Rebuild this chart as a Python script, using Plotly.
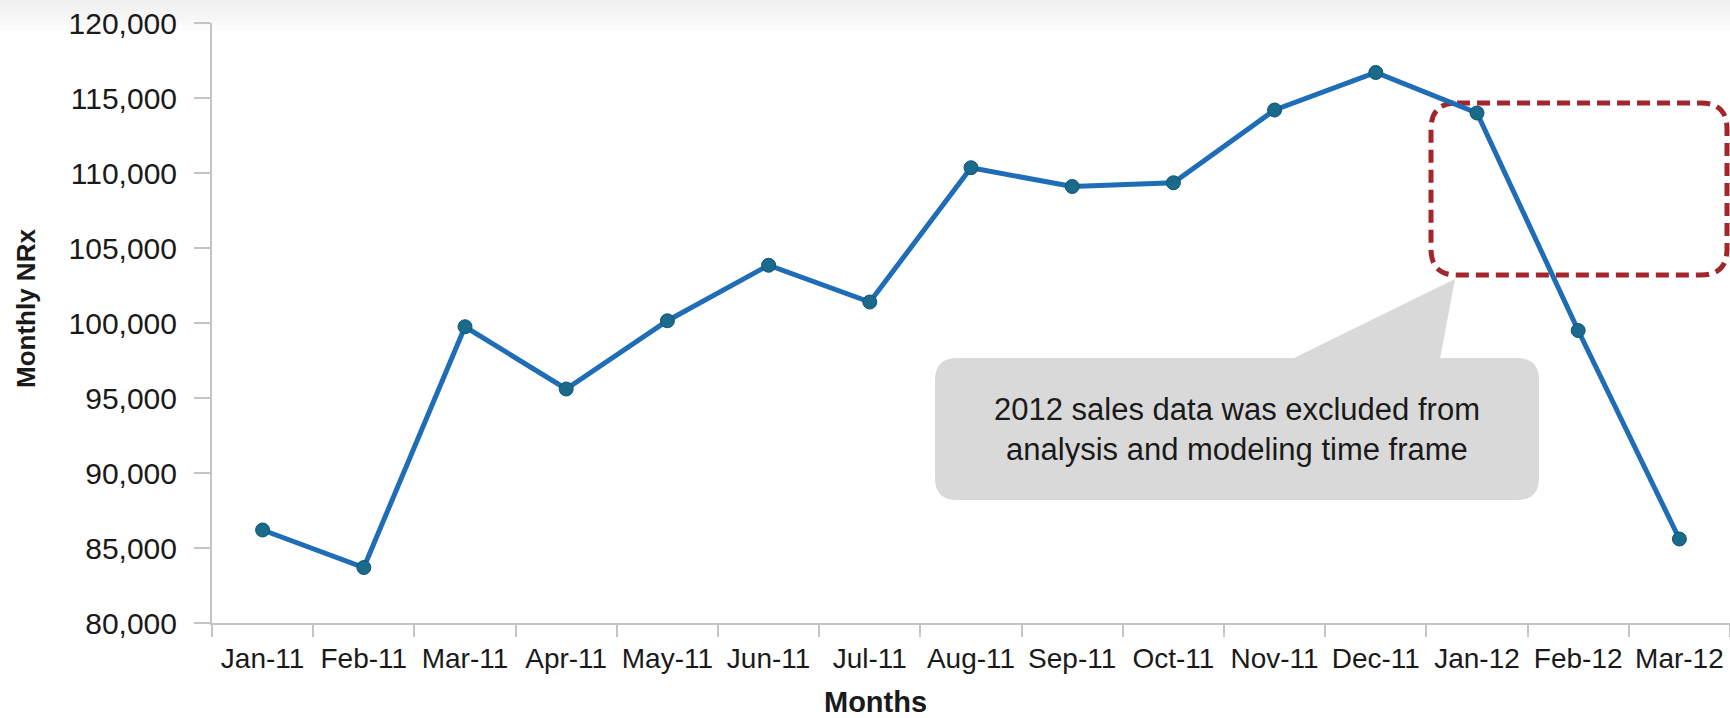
import plotly.graph_objects as go

# ---- data ----
months = ["Jan-11", "Feb-11", "Mar-11", "Apr-11", "May-11", "Jun-11", "Jul-11", "Aug-11",
          "Sep-11", "Oct-11", "Nov-11", "Dec-11", "Jan-12", "Feb-12", "Mar-12"]
nrx = [86200, 83700, 99750, 95600, 100150, 103850, 101400, 110350,
       109100, 109350, 114200, 116700, 114000, 99500, 85600]
y_ticks = [80000, 85000, 90000, 95000, 100000, 105000, 110000, 115000, 120000]
callout_text = "2012 sales data was excluded from<br>analysis and modeling time frame"
x_title = "Months"
y_title = "Monthly NRx"

FONT = "Liberation Sans, Arial, sans-serif"
W_FIG, H_FIG = 1730, 718
L, R, T, B = 212, 1730, 23, 623


def px_x(x):
    return (x - L) / (R - L)


def px_y(y):
    return (B - y) / (B - T)


def rounded_rect(x0, y0, x1, y1, r):
    # pixel coords (y down) -> paper path with rounded corners
    X0, X1 = px_x(x0), px_x(x1)
    Yt, Yb = px_y(y0), px_y(y1)
    rx = r / (R - L)
    ry = r / (B - T)
    return (f"M {X0+rx},{Yt} L {X1-rx},{Yt} Q {X1},{Yt} {X1},{Yt-ry} "
            f"L {X1},{Yb+ry} Q {X1},{Yb} {X1-rx},{Yb} "
            f"L {X0+rx},{Yb} Q {X0},{Yb} {X0},{Yb+ry} "
            f"L {X0},{Yt-ry} Q {X0},{Yt} {X0+rx},{Yt} Z")


fig = go.Figure()
fig.add_trace(go.Scatter(
    x=months, y=nrx, mode="lines+markers",
    line=dict(color="#1f6db6", width=5),
    marker=dict(size=14, color="#1a6a8c", line=dict(color="#0f5571", width=1)),
    showlegend=False, hoverinfo="x+y",
))

shapes = []
# light gray band at top
band_cols = ["#f0f0f0", "#f2f2f2", "#f4f4f4", "#f6f6f6", "#f9f9f9", "#fcfcfc"]
for i, c in enumerate(band_cols):
    shapes.append(dict(type="rect", xref="paper", yref="paper",
                       x0=px_x(0), x1=px_x(W_FIG), y0=px_y(5 * i + 5), y1=px_y(5 * i),
                       fillcolor=c, line=dict(width=0), layer="below"))

# callout box
shapes.append(dict(type="path", xref="paper", yref="paper",
                   path=rounded_rect(935, 358, 1539, 500, 22),
                   fillcolor="#d9d9d9", line=dict(width=0), layer="above"))
# callout pointer
shapes.append(dict(type="path", xref="paper", yref="paper",
                   path=(f"M {px_x(1292)},{px_y(359)} L {px_x(1455)},{px_y(279)} "
                         f"L {px_x(1440)},{px_y(359)} Z"),
                   fillcolor="#d9d9d9", line=dict(width=0), layer="above"))
# red dashed rounded rectangle
shapes.append(dict(type="path", xref="paper", yref="paper",
                   path=rounded_rect(1431, 103, 1727, 275, 26),
                   fillcolor="rgba(0,0,0,0)",
                   line=dict(color="#a3262d", width=5, dash="13px,7px"), layer="below"))

annotations = [
    dict(text=callout_text, xref="paper", yref="paper", x=px_x(1237), y=px_y(429),
         xanchor="center", yanchor="middle", showarrow=False,
         font=dict(family=FONT, size=31, color="#1a1a1a")),
    dict(text=f"<b>{x_title}</b>", xref="paper", yref="paper", x=px_x(875), y=px_y(702),
         xanchor="center", yanchor="middle", showarrow=False,
         font=dict(family=FONT, size=29, color="#1a1a1a")),
    dict(text=f"<b>{y_title}</b>", xref="paper", yref="paper", x=px_x(26), y=px_y(309),
         xanchor="center", yanchor="middle", showarrow=False, textangle=-90,
         font=dict(family=FONT, size=26, color="#1a1a1a")),
]

fig.update_layout(
    width=W_FIG, height=H_FIG, autosize=False,
    margin=dict(l=L, r=W_FIG - R, t=T, b=H_FIG - B, pad=0),
    paper_bgcolor="white", plot_bgcolor="rgba(0,0,0,0)",
    shapes=shapes, annotations=annotations,
    font=dict(family=FONT, color="#1a1a1a"),
)
fig.update_xaxes(
    type="category", range=[-0.5, len(months) - 0.5], tickson="boundaries",
    ticks="outside", ticklen=12, tickwidth=2, tickcolor="#c4c4c4", tickangle=0,
    showline=True, linecolor="#c4c4c4", linewidth=2, showgrid=False, zeroline=False,
    tickfont=dict(family=FONT, size=28, color="#1a1a1a"), automargin=False,
    ticklabelstandoff=9,
)
fig.update_yaxes(
    range=[80000, 120000], tickvals=y_ticks, tickformat=",",
    ticks="outside", ticklen=16, tickwidth=2, tickcolor="#c4c4c4",
    showline=True, linecolor="#c4c4c4", linewidth=2, showgrid=False, zeroline=False,
    tickfont=dict(family=FONT, size=30, color="#1a1a1a"), automargin=False,
    ticklabelstandoff=11,
)

fig.write_html(
    "out.html",
    config={"displayModeBar": False},
    post_script="document.body.style.margin='0';document.body.style.padding='0';",
)
